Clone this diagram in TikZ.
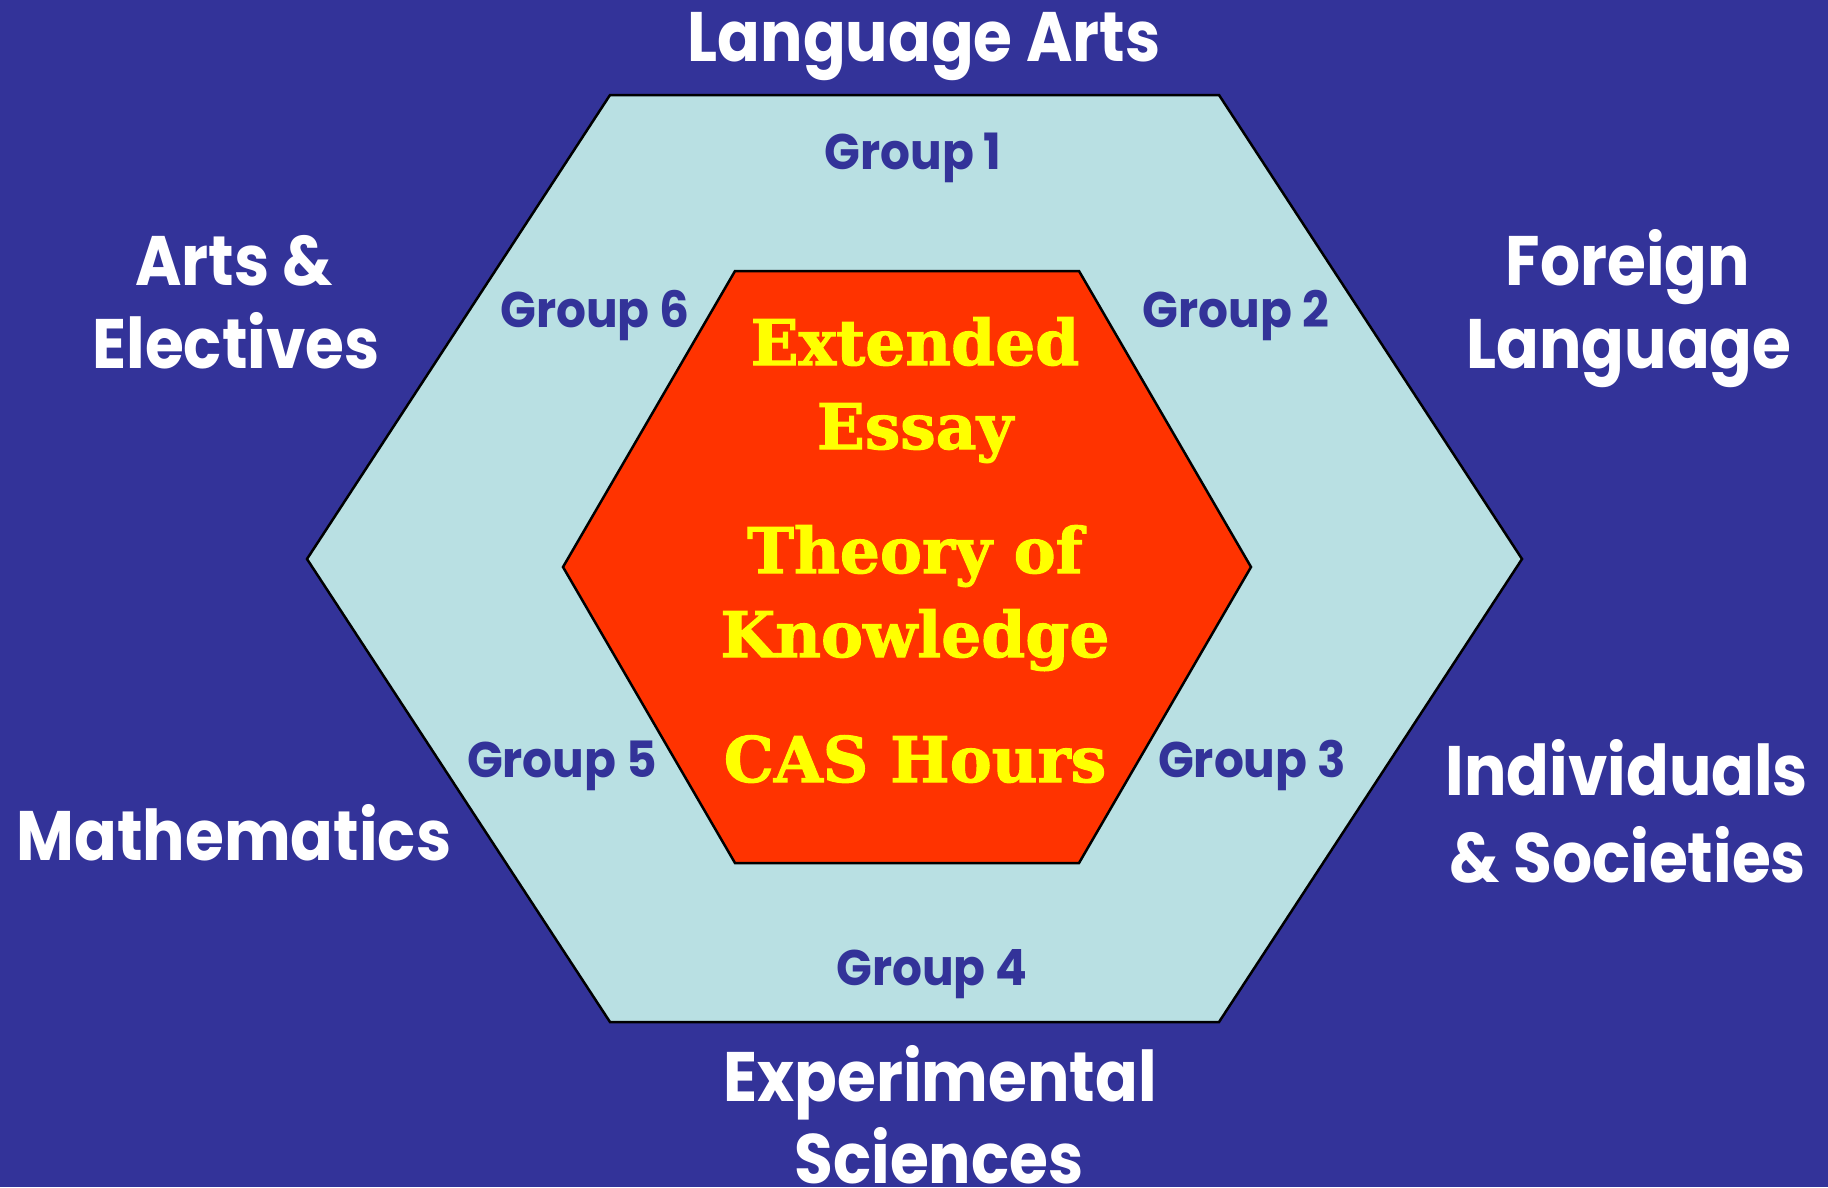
\documentclass[tikz,border=0pt]{standalone}
\usepackage{fontspec}
\newfontfamily\gothic{Poppins}[FakeStretch=0.9]
\newfontfamily\gothicgroup{Poppins}[FakeStretch=0.94]
\newfontfamily\cooper{DejaVu Serif}[BoldFeatures={FakeBold=1.6}]
\definecolor{bgblue}{HTML}{333399}
\definecolor{hexcyan}{HTML}{B9E0E3}
\definecolor{hexred}{HTML}{FF3300}
\definecolor{coreyellow}{HTML}{FFFF00}
\tikzset{
  subject/.style={inner sep=0pt, anchor=base, text=white, font=\gothic\bfseries\fontsize{70}{84}\selectfont},
  grouplabel/.style={inner sep=0pt, anchor=base, text=bgblue, font=\gothicgroup\bfseries\fontsize{50}{60}\selectfont},
  corelabel/.style={inner sep=0pt, anchor=base, text=coreyellow, font=\cooper\bfseries\fontsize{63}{76}\selectfont},
  hexline/.style={draw=black, line width=2.5pt, line join=miter}
}
\begin{document}
\begin{tikzpicture}[x=1pt,y=-1pt]
\fill[bgblue] (0,0) rectangle (1828,1187);
\useasboundingbox (0,0) rectangle (1828,1187);
% outer hexagon
\filldraw[hexline, fill=hexcyan] (610,95) -- (1219,95) -- (1522,559) -- (1219,1022) -- (610,1022) -- (307,559) -- cycle;
% inner hexagon
\filldraw[hexline, fill=hexred] (735,271) -- (1079,271) -- (1251,567) -- (1079,863) -- (735,863) -- (563,567) -- cycle;
% subject labels
\node[subject] (la) at (924,61) {Language Arts};
\node[subject] (fl1) at (1628,285) {Foreign};
\node[subject] (fl2) at (1629,368) {Language};
\node[subject] (is1) at (1627,795) {Individuals};
\node[subject] (is2) at (1628,882) {\& Societies};
\node[subject] (es1) at (940,1101) {Experimental};
\node[subject] (es2) at (939,1183) {Sciences};
\node[subject] (ma) at (234,860) {Mathematics};
\node[subject] (ae1) at (234,285) {Arts \&};
\node[subject] (ae2) at (236,368) {Electives};
% group labels
\node[grouplabel] (g1) at (913,169) {Group 1};
\node[grouplabel] (g2) at (1236,327) {Group 2};
\node[grouplabel] (g3) at (1252,777) {Group 3};
\node[grouplabel] (g4) at (932,985) {Group 4};
\node[grouplabel] (g5) at (562,777) {Group 5};
\node[grouplabel] (g6) at (595,327) {Group 6};
% core labels
\node[corelabel] (ee1) at (915,365) {Extended};
\node[corelabel] (ee2) at (915,449) {Essay};
\node[corelabel] (tok1) at (915,573) {Theory of};
\node[corelabel] (tok2) at (915,657) {Knowledge};
\node[corelabel] (cas) at (915,782) {CAS Hours};
\end{tikzpicture}
\end{document}
